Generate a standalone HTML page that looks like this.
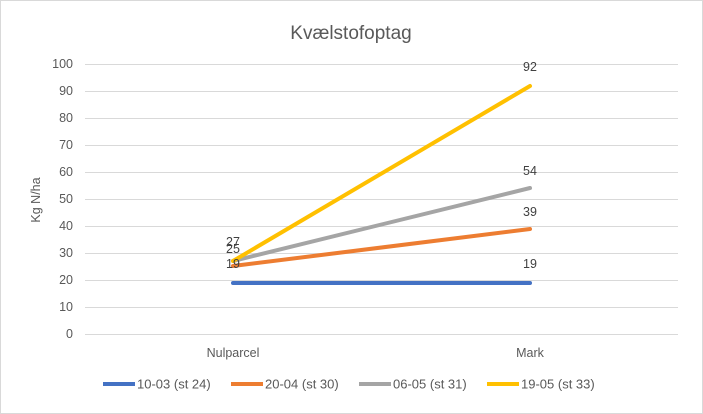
<!DOCTYPE html>
<html><head><meta charset="utf-8"><style>
body{margin:0;background:#fff}
svg{display:block;font-family:"Liberation Sans",Calibri,sans-serif}
</style></head><body>
<svg width="703" height="414" viewBox="0 0 703 414">
<rect x="0.5" y="0.5" width="702" height="413" fill="#fff" stroke="#d9d9d9"/>
<text x="351" y="39" font-size="19" fill="#595959" text-anchor="middle">Kvælstofoptag</text>
<g stroke="#d9d9d9" stroke-width="1">
<line x1="85" x2="678" y1="64.5" y2="64.5"/><line x1="85" x2="678" y1="91.5" y2="91.5"/>
<line x1="85" x2="678" y1="118.5" y2="118.5"/><line x1="85" x2="678" y1="145.5" y2="145.5"/>
<line x1="85" x2="678" y1="172.5" y2="172.5"/><line x1="85" x2="678" y1="199.5" y2="199.5"/>
<line x1="85" x2="678" y1="226.5" y2="226.5"/><line x1="85" x2="678" y1="253.5" y2="253.5"/>
<line x1="85" x2="678" y1="280.5" y2="280.5"/><line x1="85" x2="678" y1="307.5" y2="307.5"/>
<line x1="85" x2="678" y1="334.5" y2="334.5"/>
</g>
<g font-size="12.5" fill="#595959" text-anchor="end">
<text x="73" y="68">100</text><text x="73" y="95">90</text><text x="73" y="122">80</text>
<text x="73" y="149">70</text><text x="73" y="176">60</text><text x="73" y="203">50</text>
<text x="73" y="230">40</text><text x="73" y="257">30</text><text x="73" y="284">20</text>
<text x="73" y="311">10</text><text x="73" y="338">0</text>
</g>
<text transform="translate(40,200) rotate(-90)" font-size="12.5" fill="#595959" text-anchor="middle">Kg N/ha</text>
<g font-size="12.5" fill="#595959" text-anchor="middle">
<text x="233" y="357">Nulparcel</text><text x="530" y="357">Mark</text>
</g>
<g fill="none" stroke-width="4" stroke-linecap="round">
<line x1="233" y1="283" x2="530" y2="283" stroke="#4472c4"/>
<line x1="233" y1="266" x2="530" y2="229" stroke="#ed7d31"/>
<line x1="233" y1="261" x2="530" y2="188" stroke="#a5a5a5"/>
<line x1="233" y1="261" x2="530" y2="86" stroke="#ffc000"/>
</g>
<g font-size="12.5" fill="#404040" text-anchor="middle">
<text x="233" y="246">27</text><text x="233" y="253">25</text><text x="233" y="268">19</text>
<text x="530" y="71">92</text><text x="530" y="175">54</text><text x="530" y="216">39</text><text x="530" y="268">19</text>
</g>
<g font-size="13" fill="#595959">
<line x1="103" y1="384" x2="135" y2="384" stroke="#4472c4" stroke-width="4"/><text x="137" y="388.5">10-03 (st 24)</text>
<line x1="231" y1="384" x2="263" y2="384" stroke="#ed7d31" stroke-width="4"/><text x="265" y="388.5">20-04 (st 30)</text>
<line x1="359" y1="384" x2="391" y2="384" stroke="#a5a5a5" stroke-width="4"/><text x="393" y="388.5">06-05 (st 31)</text>
<line x1="487" y1="384" x2="519" y2="384" stroke="#ffc000" stroke-width="4"/><text x="521" y="388.5">19-05 (st 33)</text>
</g>
</svg>
</body></html>
